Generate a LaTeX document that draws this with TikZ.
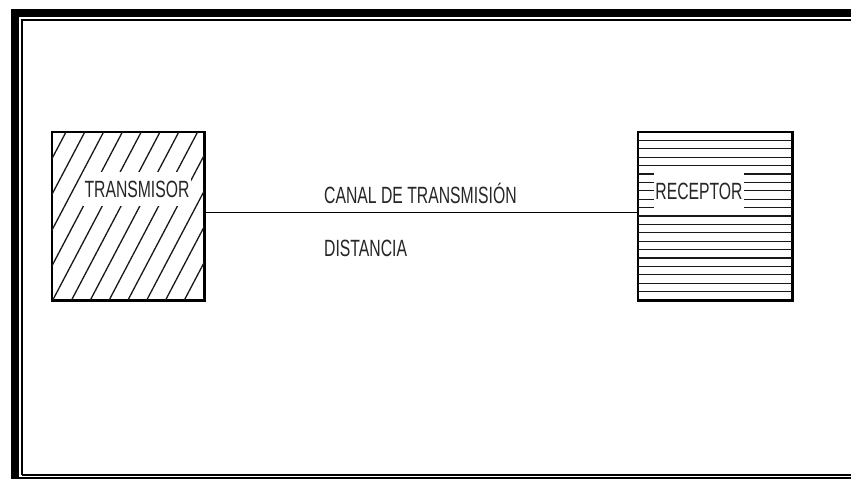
\documentclass[tikz,border=0pt]{standalone}
\usepackage{fontspec}
\setmainfont{Liberation Sans}
\newfontfamily\narrowfont{Liberation Sans}[FakeStretch=0.67]
\begin{document}
\begin{tikzpicture}[x=1pt,y=-1pt,
  frameline/.style={line width=#1, draw=black},
  block/.style={draw=black, line width=1.5pt, minimum width=152pt, minimum height=168pt, inner sep=0pt},
  hatch/.style={line width=1.3pt, draw=black!90},
  blocklabel/.style={fill=white, inner sep=1.5pt, text=black!85, font=\narrowfont\fontsize{23.5}{25}\selectfont},
  plainlabel/.style={inner sep=0pt, anchor=west, text=black!85, font=\narrowfont\fontsize{23.5}{25}\selectfont},
  link/.style={line width=1.5pt, draw=black}]
\useasboundingbox (0,0) rectangle (851,479);
\fill[white] (0,0) rectangle (851,479);
% frame
\draw[frameline=8pt] (15,481) -- (15,13) -- (870,13);
\draw[frameline=8pt] (15,481) -- (870,481);
\draw[frameline=2pt] (22,474.5) -- (22,20) -- (870,20);
\draw[frameline=2pt] (22,474.5) -- (870,474.5);
% blocks
\node[block] (tx) at (128,216) {};
\node[block, minimum width=154pt] (rx) at (715,216) {};
% hatching of transmitter
\begin{scope}
  \clip (tx.north west) rectangle (tx.south east);
  \foreach \k in {-6,...,12} {
    \draw[hatch] (66+18.8*\k-88.4,300) -- (66+18.8*\k,132);
  }
\end{scope}
% hatching of receiver
\foreach \k in {1,...,19} {
  \draw[hatch] (638,132+8.4*\k) -- (792,132+8.4*\k);
}
\draw[block] (tx.north west) rectangle (tx.south east);
\draw[block] (rx.north west) rectangle (rx.south east);
% labels in blocks
\node[blocklabel, minimum height=34pt] (txl) at (137,189) {TRANSMISOR};
\node[blocklabel, minimum height=38pt] (rxl) at (699,191) {RECEPTOR};
% connector
\draw[link] ([yshift=3.5pt]tx.east) -- ([yshift=3.5pt]rx.west);
\node[plainlabel] (canal) at (324,193.5) {CANAL DE TRANSMISIÓN};
\node[plainlabel] (dist) at (324,248.5) {DISTANCIA};
\end{tikzpicture}
\end{document}
